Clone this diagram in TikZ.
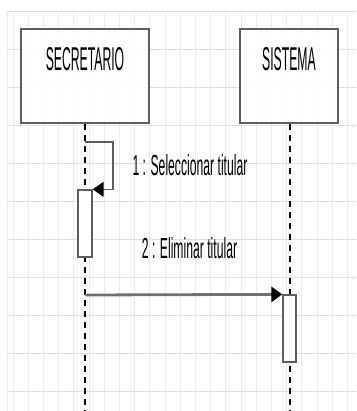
\documentclass[tikz,border=0pt]{standalone}
\usepackage{graphicx}
\usepackage{fontspec}
\setmainfont{Liberation Sans}
\usepackage{tikz}
\usetikzlibrary{arrows.meta, calc, positioning, backgrounds}

\definecolor{gridv}{HTML}{EBEBEB}
\definecolor{gridh}{HTML}{DEDEDE}
\definecolor{frame}{HTML}{5E5E5E}
\definecolor{msgline}{HTML}{707070}

\newcommand{\cond}[2][0.42]{\scalebox{#1}[1]{#2}}

\tikzset{
	actorbox/.style={draw=frame, line width=1.6pt, fill=white, fill opacity=0.85,
		minimum width=128pt, minimum height=94pt, inner sep=0pt},
	actortext/.style={font=\fontsize{33}{33}\selectfont, inner sep=0pt},
	activation/.style={draw=frame, line width=1.3pt, fill=white,
		minimum width=14pt, minimum height=67pt, inner sep=0pt},
	lifeline/.style={line width=1.1pt, dash pattern=on 6pt off 5pt},
	selfmsg/.style={draw=frame, line width=1.4pt,
		-{Triangle[length=11pt,width=15pt,color=black]}},
	callmsg/.style={draw=msgline, line width=2.8pt,
		-{Triangle[length=11pt,width=15pt,color=black]}},
	msglabel/.style={font=\fontsize{29}{29}\selectfont, inner sep=0pt}
}

\begin{document}
\begin{tikzpicture}[x=1pt, y=-1pt]
	\useasboundingbox (0,0) rectangle (356,411);
	
	% rejilla de fondo
	\begin{scope}[on background layer]
		\fill[white] (0,0) rectangle (356,411);
		\foreach \gx in {0,...,22}
			\draw[gridv, line width=0.8pt] ({13+15.2*\gx},12) -- ({13+15.2*\gx},411);
		\draw[gridv, line width=0.8pt] (7,12) -- (7,411);
		\foreach \gy in {0,...,10}
			\draw[gridh, line width=1pt] (7,{12+37.9*\gy}) -- (356,{12+37.9*\gy});
	\end{scope}
	
	% actores
	\node[actorbox] (sec) at (85,76) {};
	\node[actortext] (sectxt) at (85,59) {\cond[0.37]{SECRETARIO}};
	\node[actorbox, minimum width=98pt] (sis) at (289,76) {};
	\node[actortext] (sistxt) at (289,59) {\cond[0.37]{SISTEMA}};
	
	% lineas de vida
	\coordinate (secend) at (85,411);
	\coordinate (sisend) at (290,411);
	\draw[lifeline] (sec.south) -- (secend);
	\draw[lifeline] (sis.south -| sisend) -- (sisend);
	
	% activaciones
	\node[activation] (act1) at (85,223.5) {};
	\node[activation, minimum width=13pt] (act2) at (289.5,328.5) {};
	
	% mensaje 1 (reflexivo)
	\coordinate (m1) at (85,142);
	\draw[selfmsg] (m1) -- ++(28,0) |- (act1.north east);
	\node[msglabel] (lbl1) at (190,165) {\cond{1 : Seleccionar titular}};
	
	% mensaje 2
	\coordinate (m2) at (85,295);
	\draw[callmsg] (m2) -- (act2.north west);
	\node[msglabel] (lbl2) at (189.5,248) {\cond{2 : Eliminar titular}};
\end{tikzpicture}
\end{document}
